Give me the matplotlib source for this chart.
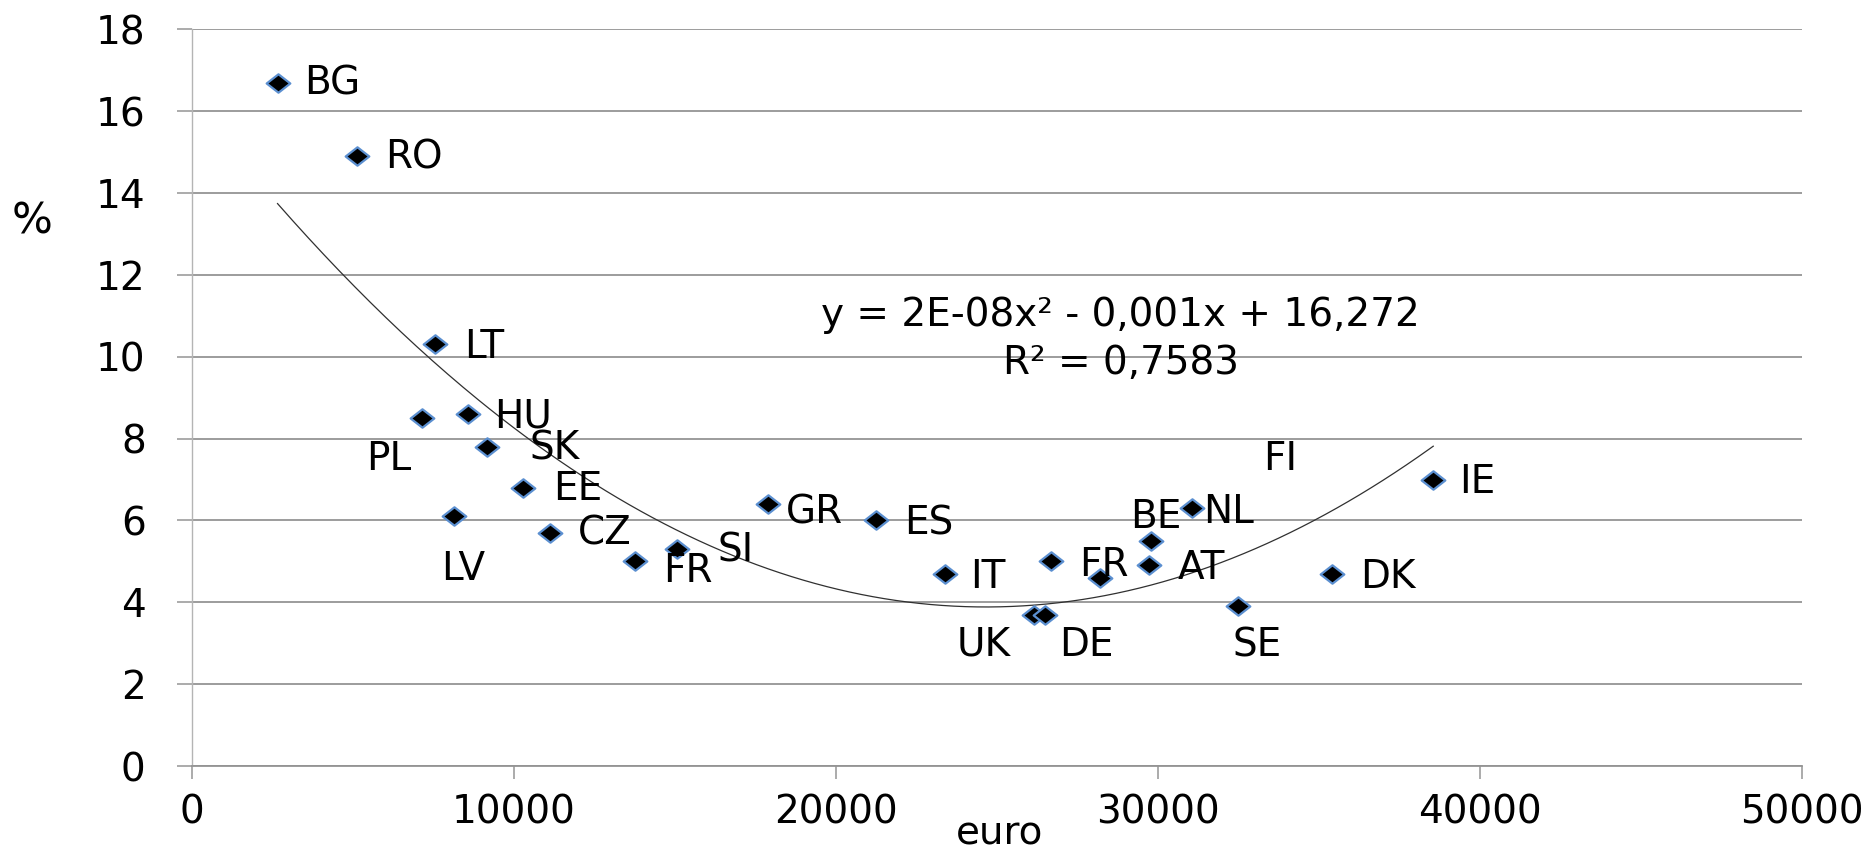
import numpy as np
import matplotlib
matplotlib.use("Agg")
import matplotlib.pyplot as plt
from matplotlib.path import Path

# income per head (euro) vs. rate (%) by country
countries = ['BG', 'RO', 'LT', 'PL', 'HU', 'SK', 'EE', 'LV', 'CZ', 'FR', 'SI', 'GR',
             'ES', 'IT', 'UK', 'DE', 'FR', 'FI', 'BE', 'AT', 'NL', 'SE', 'DK', 'IE']
euro = [2670, 5140, 7570, 7150, 8580, 9180, 10300, 8160, 11130, 13770, 15070, 17910,
        21250, 23380, 26150, 26500, 26680, 28200, 29800, 29730, 31050, 32500, 35400, 38550]
pct = [16.7, 14.9, 10.3, 8.5, 8.6, 7.8, 6.8, 6.1, 5.7, 5.0, 5.3, 6.4,
       6.0, 4.7, 3.7, 3.7, 5.0, 4.6, 5.5, 4.9, 6.3, 3.9, 4.7, 7.0]

# label placement: (horizontal alignment, dx, dy) in pixels from the marker
label_pos = [('left', 27, -1), ('left', 28, -1), ('left', 29, -3), ('center', -33, -41),
             ('left', 26, -2), ('left', 42, -2), ('left', 30, -1), ('center', 9, -53),
             ('left', 28, -1), ('left', 28, -10), ('left', 41, -1), ('left', 17, -8),
             ('left', 28, -3), ('left', 26, -3), ('center', -50, -30), ('center', 41, -30),
             ('left', 28, -4), ('left', 163, 119), ('center', 4, 24), ('left', 29, -3),
             ('left', 11, -4), ('center', 19, -39), ('left', 28, -3), ('left', 26, -2)]

x = np.array(euro, dtype=float)
y = np.array(pct)

# 2nd order polynomial trend line over the data range
coef = np.polyfit(x, y, 2)
xs = np.linspace(x.min(), x.max(), 300)
ys = np.polyval(coef, xs)

plt.rcParams['font.family'] = ['DejaVu Sans']
fs = 28

fig = plt.figure(figsize=(18.74, 8.5), dpi=100)
ax = fig.add_axes([0.1022, 0.0988, 0.8594, 0.8667])

# wide diamond marker
diamond = Path([(-1, 0), (0, 0.78), (1, 0), (0, -0.78), (-1, 0)],
               [Path.MOVETO, Path.LINETO, Path.LINETO, Path.LINETO, Path.CLOSEPOLY])

ax.plot(xs, ys, color='#303030', lw=0.9, zorder=2)
ax.plot(x, y, ls='none', marker=diamond, ms=17, mfc='black', mec='#5b8fd0',
        mew=1.6, zorder=3)

for name, xi, yi, (ha, dx, dy) in zip(countries, x, y, label_pos):
    ax.annotate(name, (xi, yi), xytext=(dx, dy), textcoords='offset pixels',
                ha=ha, va='center', fontsize=fs, color='black', zorder=4)

ax.set_xlim(0, 50000)
ax.set_ylim(0, 18)
ax.set_xticks(np.arange(0, 50001, 10000))
ax.set_yticks(np.arange(0, 19, 2))
ax.grid(axis='y', color='#949494', lw=1.3)
ax.set_axisbelow(True)

for s in ['top', 'right']:
    ax.spines[s].set_visible(False)
ax.spines['left'].set_color('#b4b4b4')
ax.spines['left'].set_linewidth(1.0)
ax.spines['bottom'].set_color('#949494')
ax.spines['bottom'].set_linewidth(1.3)

ax.tick_params(axis='y', direction='out', length=11, width=1.1, color='#949494',
               labelsize=fs, pad=22)
ax.tick_params(axis='x', direction='out', length=9, width=1.1, color='#949494',
               labelsize=fs, pad=11)

fig.text(0.0173, 0.739, '%', fontsize=31, ha='center', va='center')
fig.text(0.5336, 0.02, 'euro', fontsize=fs, ha='center', va='center')

fig.text(0.598, 0.6294, 'y = 2E-08x\u00b2 - 0,001x + 16,272', fontsize=fs,
         ha='center', va='center')
fig.text(0.598, 0.573, 'R\u00b2 = 0,7583', fontsize=fs, ha='center', va='center')

fig.savefig('out.png', dpi=100)
